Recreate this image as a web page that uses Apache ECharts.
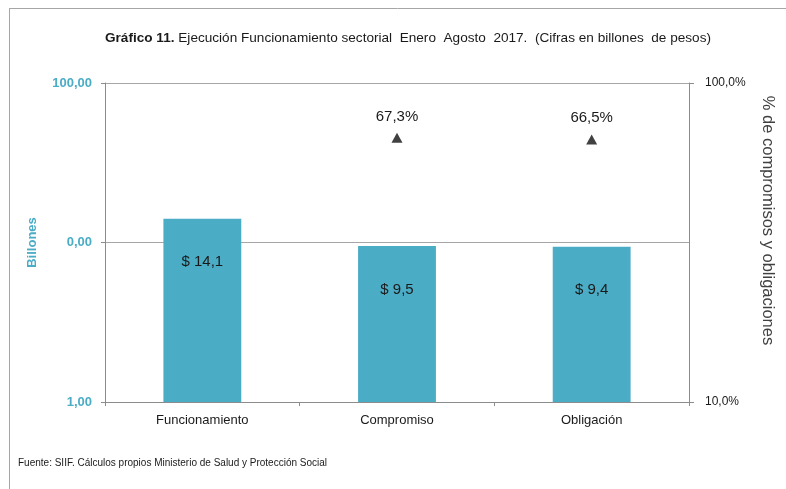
<!DOCTYPE html>
<html>
<head>
<meta charset="utf-8">
<script src="https://cdn.jsdelivr.net/npm/echarts@6/dist/echarts.min.js"></script>
<style>
  html, body { margin: 0; padding: 0; background: #fff; }
  #chart { width: 786px; height: 489px; }
</style>
</head>
<body>
<div id="chart"></div>
<script>
const categories = ['Funcionamiento', 'Compromiso', 'Obligación']
const billones = [14.1, 9.5, 9.4]
const porcentaje = [null, 67.3, 66.5]
const leftTicks = [1, 10, 100]
const leftTickLabels = ['1,00', '0,00', '100,00']
const rightTicks = [10, 100]
const rightTickLabels = ['10,0%', '100,0%']

const teal = '#4bacc6'
const axisGrey = '#8c8c8c'
const fontFamily = '"Liberation Sans", Arial, sans-serif'

const toComma = (v, d) => v.toFixed(d).replace('.', ',')

const chart = echarts.init(document.getElementById('chart'))
chart.setOption({
  animation: false,
  textStyle: { fontFamily: fontFamily },
  title: {
    text: '{b|Gráfico 11.} Ejecución Funcionamiento sectorial  Enero  Agosto  2017.  (Cifras en billones  de pesos)',
    left: 100,
    top: 26,
    textStyle: {
      fontSize: 13.6,
      fontWeight: 'normal',
      color: '#1a1a1a',
      rich: { b: { fontSize: 13.6, fontWeight: 'bold', color: '#1a1a1a' } }
    }
  },
  graphic: [
    { type: 'line', shape: { x1: 9.5, y1: 8, x2: 9.5, y2: 489 }, style: { stroke: '#a6a6a6', lineWidth: 1 } },
    { type: 'line', shape: { x1: 9, y1: 8.5, x2: 786, y2: 8.5 }, style: { stroke: '#a6a6a6', lineWidth: 1 } },
    {
      type: 'text', left: 18, top: 458,
      style: { text: 'Fuente: SIIF. Cálculos propios Ministerio de Salud y Protección Social', fontSize: 10, fill: '#1a1a1a', fontFamily: fontFamily }
    }
  ],
  grid: { left: 105, right: 97, top: 83, bottom: 87 },
  xAxis: {
    type: 'category',
    data: categories,
    axisLine: { lineStyle: { color: axisGrey } },
    axisTick: { show: true, length: 4, lineStyle: { color: axisGrey } },
    axisLabel: { fontSize: 13, color: '#1a1a1a', margin: 12 }
  },
  yAxis: [
    {
      type: 'log',
      logBase: 10,
      min: 1,
      max: 100,
      name: 'Billones',
      nameLocation: 'middle',
      nameRotate: 90,
      nameGap: 66,
      nameTextStyle: { color: teal, fontWeight: 'bold', fontSize: 13 },
      axisLine: { show: true, lineStyle: { color: axisGrey } },
      axisTick: { show: true, length: 4, lineStyle: { color: axisGrey } },
      axisLabel: {
        color: teal, fontWeight: 'bold', fontSize: 13, margin: 13,
        formatter: v => {
          const i = leftTicks.findIndex(t => Math.abs(t - v) < 1e-6)
          return i >= 0 ? leftTickLabels[i] : ''
        }
      },
      splitLine: { show: true, lineStyle: { color: '#a6a6a6' } }
    },
    {
      type: 'log',
      logBase: 10,
      min: 10,
      max: 100,
      name: '% de compromisos y obligaciones',
      nameLocation: 'middle',
      nameRotate: -90,
      nameGap: 70,
      nameTextStyle: { color: '#404040', fontSize: 16.5, padding: [0, 44, 0, 0] },
      axisLine: { show: true, lineStyle: { color: axisGrey } },
      axisTick: { show: true, length: 5, lineStyle: { color: axisGrey } },
      axisLabel: {
        color: '#1a1a1a', fontSize: 12, margin: 16,
        formatter: v => {
          const i = rightTicks.findIndex(t => Math.abs(t - v) < 1e-6)
          return i >= 0 ? rightTickLabels[i] : ''
        }
      },
      splitLine: { show: false }
    }
  ],
  series: [
    {
      name: 'Billones',
      type: 'bar',
      data: billones,
      barWidth: '40%',
      itemStyle: { color: teal },
      label: {
        show: true,
        position: 'insideTop',
        distance: 36,
        fontSize: 15,
        color: '#1a1a1a',
        formatter: p => '$ ' + toComma(p.value, 1)
      }
    },
    {
      name: 'Porcentaje',
      type: 'line',
      yAxisIndex: 1,
      data: porcentaje,
      symbol: 'triangle',
      symbolSize: [11, 10],
      lineStyle: { opacity: 0 },
      itemStyle: { color: '#404040' },
      label: {
        show: true,
        position: 'top',
        distance: 9,
        fontSize: 15,
        color: '#1a1a1a',
        formatter: p => toComma(p.value, 1) + '%'
      }
    }
  ]
})
</script>
</body>
</html>
